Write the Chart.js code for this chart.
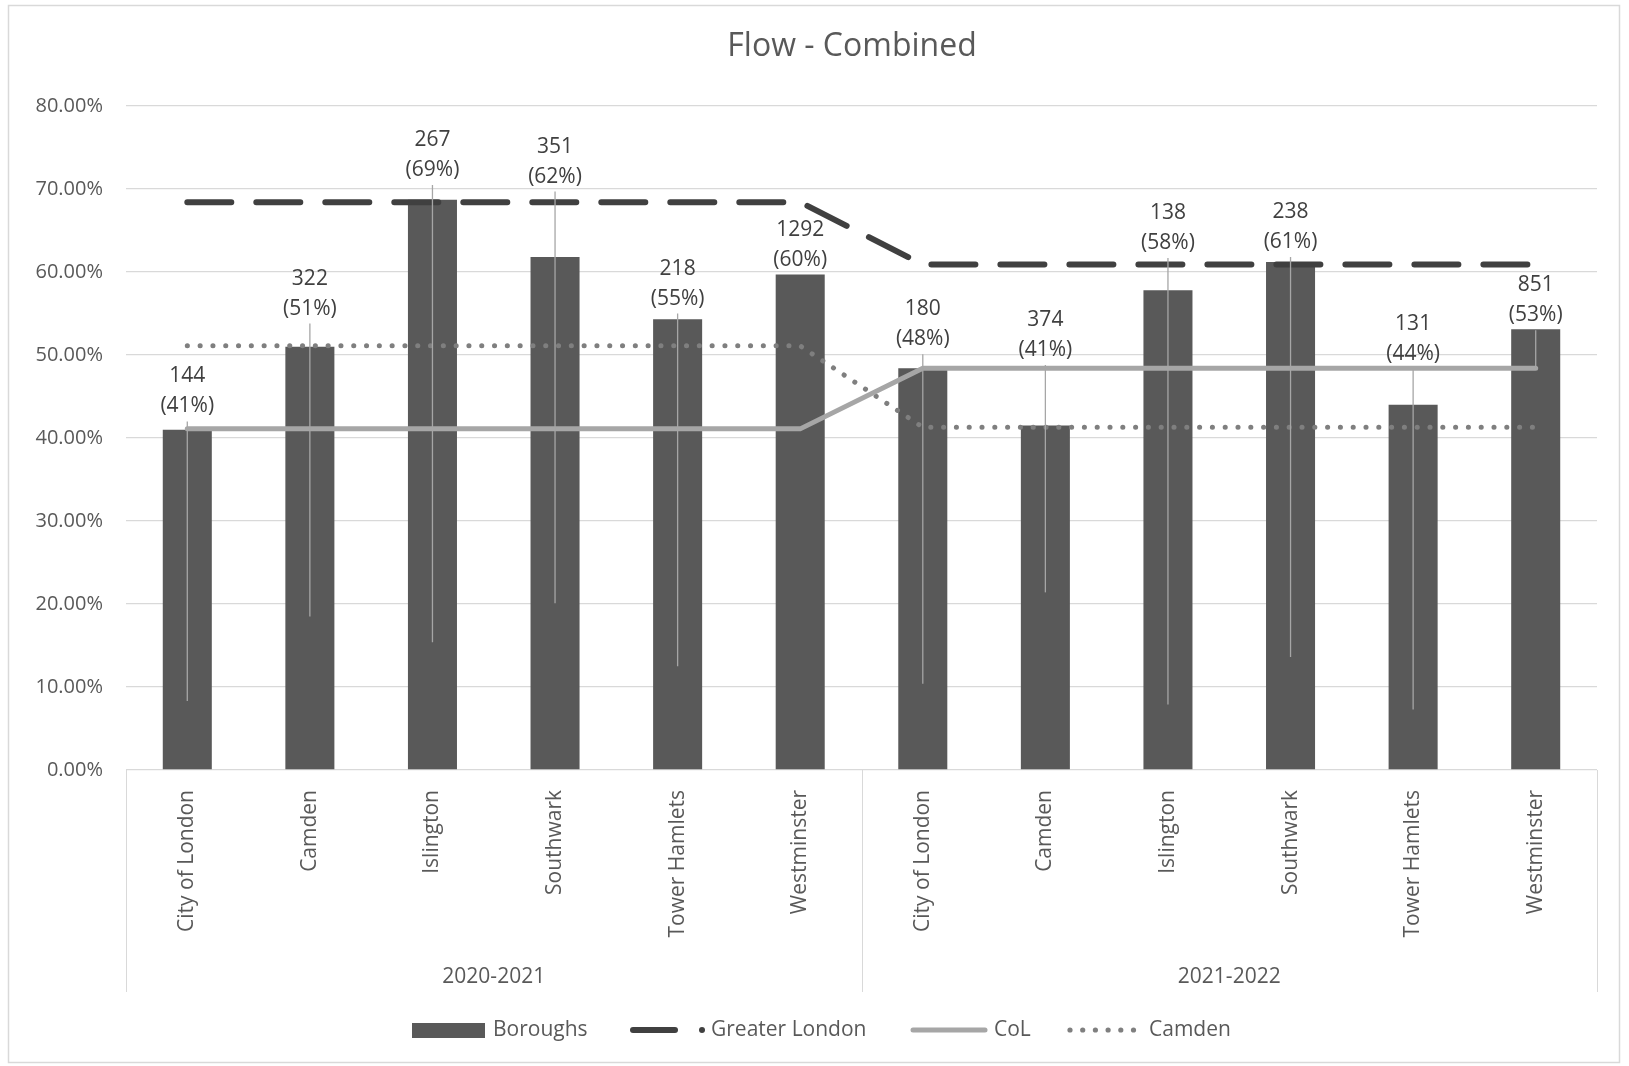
<!DOCTYPE html>
<html>
<head>
<meta charset="utf-8">
<script src="https://cdn.jsdelivr.net/npm/chart.js@4.4.0/dist/chart.umd.min.js"></script>
<style>
  html, body { margin: 0; padding: 0; background: #fff; }
</style>
</head>
<body>
<canvas id="chart" width="1629" height="1066"></canvas>
<script>
const FONT = '"Open Sans", "Liberation Sans", sans-serif';

// Data
const periods = ['2020-2021', '2021-2022'];
const boroughs = ['City of London', 'Camden', 'Islington', 'Southwark', 'Tower Hamlets', 'Westminster'];
const counts = [144, 322, 267, 351, 218, 1292, 180, 374, 138, 238, 131, 851];
const boroughRates = [41.0, 51.0, 68.7, 61.8, 54.3, 59.7, 48.4, 41.5, 57.8, 61.2, 44.0, 53.1];
const labelPct = [41, 51, 69, 62, 55, 60, 48, 41, 58, 61, 44, 53];
const greaterLondon = [68.4, 68.4, 68.4, 68.4, 68.4, 68.4, 60.9, 60.9, 60.9, 60.9, 60.9, 60.9];
const colRates = [41.1, 41.1, 41.1, 41.1, 41.1, 41.1, 48.4, 48.4, 48.4, 48.4, 48.4, 48.4];
const camdenRates = [51.1, 51.1, 51.1, 51.1, 51.1, 51.1, 41.3, 41.3, 41.3, 41.3, 41.3, 41.3];
const yTicks = [0, 10, 20, 30, 40, 50, 60, 70, 80];

// Label placement in the original (value of the "(xx%)" line) and leader line ends
const labelLevels = [43.8, 55.6, 72.3, 71.5, 56.8, 61.5, 51.9, 50.6, 63.5, 63.6, 50.1, 54.8];
const leaderEnds = [8.3, 18.5, 15.4, 20.1, 12.5, null, 10.4, 21.4, 7.9, 13.6, 7.3, 48.3];

const categories = periods.flatMap(() => boroughs);

const COLORS = {
  bar: '#595959',
  gl: '#404040',
  col: '#a6a6a6',
  camden: '#7f7f7f',
  grid: '#d9d9d9',
  text: '#595959',
  label: '#404040',
};

const excelBits = {
  id: 'excelBits',
  beforeDraw(chart) {
    const { ctx } = chart;
    ctx.save();
    ctx.fillStyle = '#fff';
    ctx.fillRect(0, 0, chart.width, chart.height);
    ctx.strokeStyle = COLORS.grid;
    ctx.lineWidth = 1.5;
    ctx.strokeRect(8.5, 5.5, 1611, 1057);
    ctx.restore();
  },
  afterDraw(chart) {
    const { ctx, chartArea } = chart;
    const x = chart.scales.x;
    const y = chart.scales.y;
    ctx.save();

    // title
    ctx.fillStyle = COLORS.text;
    ctx.font = `32px ${FONT}`;
    ctx.textAlign = 'center';
    ctx.textBaseline = 'middle';
    ctx.fillText('Flow - Combined', 852, 47);

    // group separators and group labels
    const sepBottom = 992;
    ctx.strokeStyle = COLORS.grid;
    ctx.lineWidth = 1;
    const n = boroughs.length;
    const edges = [chartArea.left, (x.getPixelForValue(n - 1) + x.getPixelForValue(n)) / 2, chartArea.right];
    edges.forEach((px) => {
      ctx.beginPath();
      ctx.moveTo(Math.round(px) + 0.5, chartArea.bottom);
      ctx.lineTo(Math.round(px) + 0.5, sepBottom);
      ctx.stroke();
    });
    ctx.font = `21px ${FONT}`;
    ctx.fillStyle = COLORS.text;
    periods.forEach((p, i) => {
      const cx = (edges[i] + edges[i + 1]) / 2;
      ctx.fillText(p, cx, 977);
    });

    // leader lines
    ctx.strokeStyle = '#a6a6a6';
    ctx.lineWidth = 1.3;
    counts.forEach((c, i) => {
      if (leaderEnds[i] == null) return;
      const px = x.getPixelForValue(i);
      ctx.beginPath();
      ctx.moveTo(px, y.getPixelForValue(labelLevels[i]) + 15);
      ctx.lineTo(px, y.getPixelForValue(leaderEnds[i]));
      ctx.stroke();
    });

    // data labels
    ctx.fillStyle = COLORS.label;
    ctx.font = `21px ${FONT}`;
    counts.forEach((c, i) => {
      const px = x.getPixelForValue(i);
      const py = y.getPixelForValue(labelLevels[i]);
      ctx.fillText(String(c), px, py - 30);
      ctx.fillText(`(${labelPct[i]}%)`, px, py);
    });

    // legend
    const ly = 1030;
    ctx.textAlign = 'left';
    ctx.fillStyle = COLORS.bar;
    ctx.fillRect(412, ly - 7, 73, 15);
    ctx.fillStyle = COLORS.text;
    ctx.fillText('Boroughs', 493, ly);

    ctx.lineCap = 'round';
    ctx.strokeStyle = COLORS.gl;
    ctx.lineWidth = 6;
    ctx.beginPath();
    ctx.moveTo(633, ly);
    ctx.lineTo(675, ly);
    ctx.stroke();
    ctx.fillStyle = COLORS.gl;
    ctx.beginPath();
    ctx.arc(702, ly, 3, 0, Math.PI * 2);
    ctx.fill();
    ctx.fillStyle = COLORS.text;
    ctx.fillText('Greater London', 711, ly);

    ctx.strokeStyle = COLORS.col;
    ctx.lineWidth = 5;
    ctx.beginPath();
    ctx.moveTo(913, ly);
    ctx.lineTo(985, ly);
    ctx.stroke();
    ctx.fillText('CoL', 994, ly);

    ctx.fillStyle = COLORS.camden;
    for (let k = 0; k < 6; k++) {
      ctx.beginPath();
      ctx.arc(1070 + k * 12.7, ly, 2.6, 0, Math.PI * 2);
      ctx.fill();
    }
    ctx.fillStyle = COLORS.text;
    ctx.fillText('Camden', 1149, ly);

    ctx.restore();
  },
};

new Chart(document.getElementById('chart'), {
  data: {
    labels: categories,
    datasets: [
      {
        type: 'line',
        label: 'Greater London',
        data: greaterLondon,
        borderColor: COLORS.gl,
        borderWidth: 6,
        borderDash: [44, 25],
        borderCapStyle: 'round',
        pointRadius: 0,
        tension: 0,
        order: 0,
      },
      {
        type: 'line',
        label: 'CoL',
        data: colRates,
        borderColor: COLORS.col,
        borderWidth: 5,
        borderCapStyle: 'round',
        pointRadius: 0,
        tension: 0,
        order: 1,
      },
      {
        type: 'line',
        label: 'Camden',
        data: camdenRates,
        borderColor: COLORS.camden,
        borderWidth: 5,
        borderDash: [0.1, 12.7],
        borderCapStyle: 'round',
        pointRadius: 0,
        tension: 0,
        order: 2,
      },
      {
        type: 'bar',
        label: 'Boroughs',
        data: boroughRates,
        backgroundColor: COLORS.bar,
        borderWidth: 0,
        categoryPercentage: 1,
        barPercentage: 0.4,
        order: 3,
      },
    ],
  },
  options: {
    responsive: false,
    devicePixelRatio: 1,
    animation: false,
    layout: { padding: { left: 0, right: 32, top: 106, bottom: 0 } },
    plugins: {
      legend: { display: false },
      title: { display: false },
      tooltip: { enabled: false },
    },
    scales: {
      x: {
        grid: { display: false },
        border: { display: false },
        ticks: {
          autoSkip: false,
          minRotation: 90,
          maxRotation: 90,
          padding: 12,
          color: COLORS.text,
          font: { family: FONT, size: 21 },
        },
        afterFit(scale) { scale.height = 296; },
      },
      y: {
        min: 0,
        max: 80,
        afterBuildTicks(scale) { scale.ticks = yTicks.map((v) => ({ value: v })); },
        grid: { color: COLORS.grid, lineWidth: 1.3, drawTicks: false },
        border: { display: false },
        ticks: {
          padding: 23,
          color: COLORS.text,
          font: { family: FONT, size: 20 },
          callback: (v) => v.toFixed(2) + '%',
        },
        afterFit(scale) { scale.width = 126; },
      },
    },
  },
  plugins: [excelBits],
});
</script>
</body>
</html>
